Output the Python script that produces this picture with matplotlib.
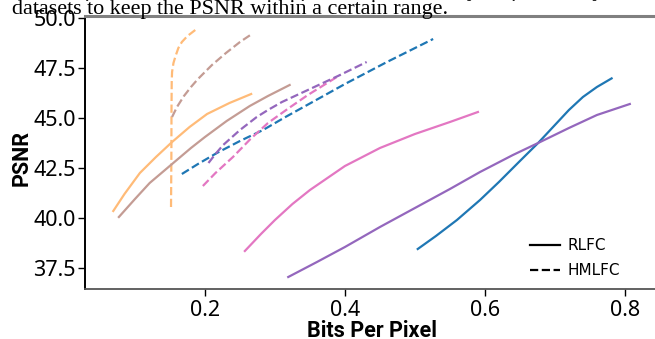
import matplotlib
matplotlib.use("Agg")
import matplotlib.pyplot as plt
from matplotlib.lines import Line2D

# ---------------- data ----------------
blue_rlfc_x = [0.504, 0.53, 0.56, 0.593, 0.62, 0.65, 0.676, 0.70, 0.72, 0.74, 0.76, 0.781]
blue_rlfc_y = [38.45, 39.1, 39.9, 40.9, 41.8, 42.85, 43.75, 44.65, 45.4, 46.05, 46.55, 46.98]
blue_hm_x = [0.167, 0.19, 0.217, 0.25, 0.283, 0.315, 0.346, 0.40, 0.46, 0.526]
blue_hm_y = [42.2, 42.7, 43.25, 43.85, 44.4, 45.05, 45.65, 46.7, 47.8, 48.95]

orange_rlfc_x = [0.069, 0.085, 0.107, 0.13, 0.153, 0.178, 0.203, 0.235, 0.266]
orange_rlfc_y = [40.35, 41.2, 42.25, 43.05, 43.8, 44.55, 45.2, 45.75, 46.2]
orange_hm_x = [0.1515, 0.152, 0.1522, 0.1525, 0.153, 0.155, 0.158, 0.162, 0.167, 0.175, 0.188]
orange_hm_y = [40.55, 43.0, 45.5, 46.8, 47.3, 47.75, 48.1, 48.5, 48.8, 49.1, 49.45]

pink_rlfc_x = [0.257, 0.28, 0.30, 0.325, 0.35, 0.375, 0.40, 0.425, 0.45, 0.475, 0.50, 0.525, 0.55, 0.59]
pink_rlfc_y = [38.35, 39.2, 39.9, 40.7, 41.4, 42.0, 42.6, 43.05, 43.5, 43.85, 44.2, 44.5, 44.8, 45.3]
pink_hm_x = [0.197, 0.215, 0.24, 0.265, 0.29, 0.32, 0.347, 0.37, 0.393]
pink_hm_y = [41.6, 42.25, 43.05, 43.95, 44.75, 45.5, 46.15, 46.65, 47.15]

purple_rlfc_x = [0.319, 0.36, 0.40, 0.45, 0.50, 0.55, 0.593, 0.64, 0.676, 0.72, 0.76, 0.807]
purple_rlfc_y = [37.05, 37.8, 38.55, 39.55, 40.5, 41.45, 42.3, 43.15, 43.75, 44.5, 45.15, 45.7]
purple_hm_x = [0.205, 0.215, 0.226, 0.25, 0.274, 0.29, 0.31, 0.347, 0.39, 0.431]
purple_hm_y = [42.75, 43.2, 43.65, 44.4, 45.05, 45.4, 45.8, 46.4, 47.1, 47.8]

brown_rlfc_x = [0.077, 0.10, 0.121, 0.153, 0.18, 0.20, 0.231, 0.264, 0.29, 0.321]
brown_rlfc_y = [40.05, 40.95, 41.75, 42.7, 43.5, 44.05, 44.85, 45.6, 46.1, 46.65]
brown_hm_x = [0.153, 0.16, 0.17, 0.18, 0.19, 0.20, 0.21, 0.23, 0.25, 0.267]
brown_hm_y = [45.05, 45.55, 46.1, 46.55, 46.95, 47.3, 47.65, 48.25, 48.8, 49.2]

dataset_labels = ["Amethyst", "Blacksmith", "Bunny", "Beans", "Lego Gantry", "Knights", "Tarot"]
dataset_colors = ["#ff7f0e", "#1f77b4", "#ffbb78", "#ff9896", "#e377c2", "#9467bd", "#7f7f7f"]

method_labels = ["RLFC", "HMLFC"]
caption = "datasets to keep the PSNR within a certain range."

# ---------------- figure ----------------
W, H = 655, 339
fig = plt.figure(figsize=(W / 100, H / 100), dpi=100)
ax = fig.add_axes([85 / W, (H - 289) / H, 1 - 85 / W, (289 - 16) / H])

series = [
    (blue_rlfc_x, blue_rlfc_y, blue_hm_x, blue_hm_y, "#1f77b4"),
    (orange_rlfc_x, orange_rlfc_y, orange_hm_x, orange_hm_y, "#ffbb78"),
    (pink_rlfc_x, pink_rlfc_y, pink_hm_x, pink_hm_y, "#e377c2"),
    (purple_rlfc_x, purple_rlfc_y, purple_hm_x, purple_hm_y, "#9467bd"),
    (brown_rlfc_x, brown_rlfc_y, brown_hm_x, brown_hm_y, "#c49c94"),
]
for rx, ry, hx, hy, c in series:
    ax.plot(rx, ry, color=c, lw=1.6, ls="-", solid_joinstyle="round")
    ax.plot(hx, hy, color=c, lw=1.6, ls="--")

ax.set_xlim(0.0286, 0.843)
ax.set_ylim(36.45, 50.1)
ax.set_xticks([0.2, 0.4, 0.6, 0.8])
ax.set_yticks([37.5, 40.0, 42.5, 45.0, 47.5, 50.0])
ax.set_xticklabels(["0.2", "0.4", "0.6", "0.8"])
ax.set_yticklabels(["37.5", "40.0", "42.5", "45.0", "47.5", "50.0"])
for lab in ax.get_xticklabels() + ax.get_yticklabels():
    lab.set_fontfamily("Noto Sans")
    lab.set_fontsize(15.5)
ax.tick_params(axis="both", length=5, width=1)
ax.tick_params(axis="y", pad=1.5)
ax.tick_params(axis="x", pad=3)

ax.spines["right"].set_visible(False)
ax.spines["left"].set_color("black")
ax.spines["left"].set_linewidth(1.4)
ax.spines["bottom"].set_color("#555555")
ax.spines["bottom"].set_linewidth(1.3)
ax.spines["top"].set_color("#808080")
ax.spines["top"].set_linewidth(2.2)

fig.text(372 / W, (H - 337) / H, "Bits Per Pixel", family="Roboto", weight="bold",
         fontsize=15.5, ha="center", va="baseline")
fig.text(22 / W, (H - 158) / H, "PSNR", family="Roboto", weight="bold",
         fontsize=15.5, ha="center", va="center", rotation=90)

handles = [Line2D([], [], color="black", ls="-", lw=1.6),
           Line2D([], [], color="black", ls="--", lw=1.6)]
ax.legend(handles, method_labels, loc="lower left", frameon=False, fontsize=11,
          bbox_to_anchor=(516 / W, 47 / H), bbox_transform=fig.transFigure,
          labelspacing=0.65, handletextpad=0.5)

# dataset legend, mostly above the visible area
dh = [Line2D([], [], color=c, lw=3) for c in dataset_colors]
fig.legend(dh, dataset_labels, loc="lower left", ncol=7, frameon=False, fontsize=7.5,
           bbox_to_anchor=(10 / W, (H - 6) / H), handlelength=2.7, columnspacing=2.0,
           borderpad=0)

fig.text(12 / W, (H - 14) / H, caption, family="Liberation Serif", fontsize=15.9,
         ha="left", va="baseline")

fig.savefig("out.png", dpi=100)
